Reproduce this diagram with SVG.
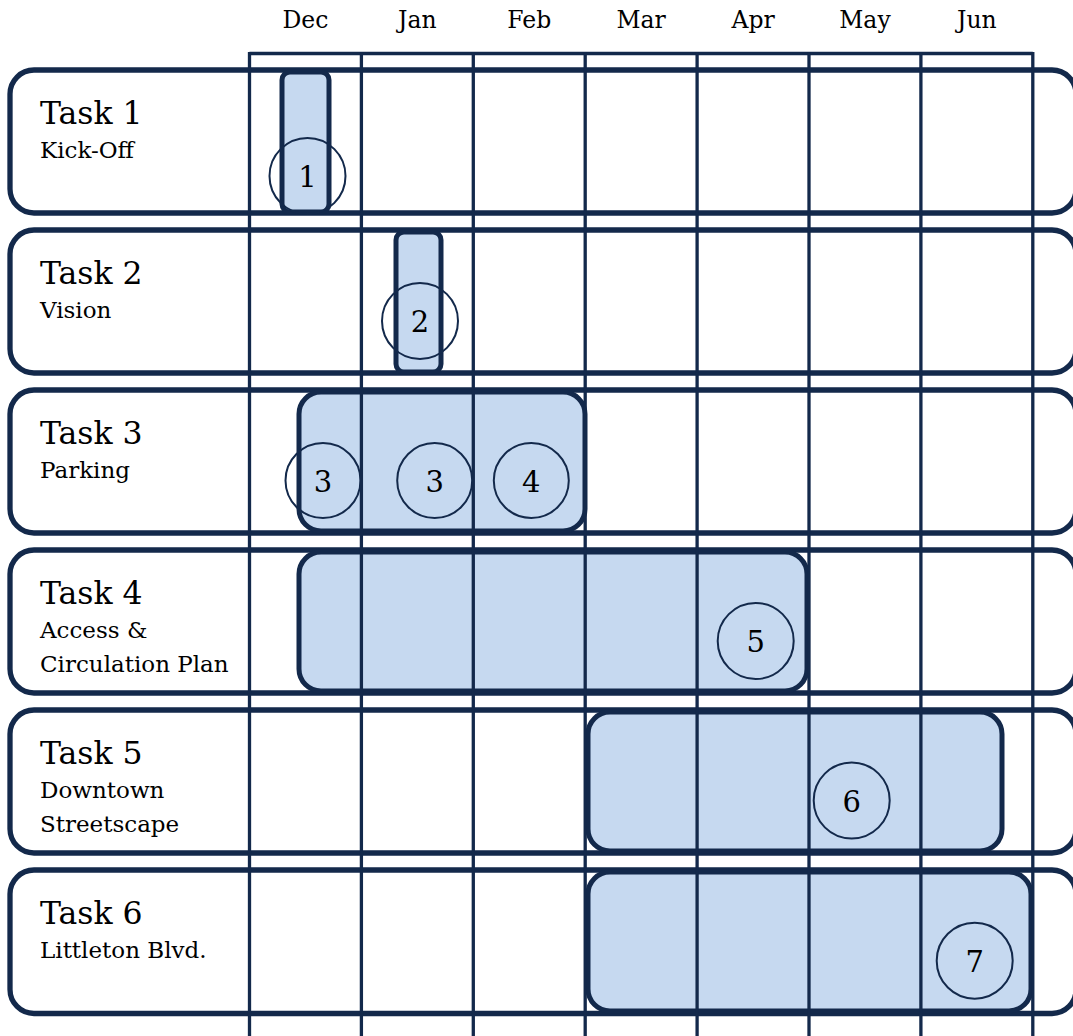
<svg xmlns="http://www.w3.org/2000/svg" width="1073" height="1036" viewBox="0 0 1073 1036">
<style>
.row{fill:#ffffff;stroke:#13294b;stroke-width:5.3}
.bar{fill:#c6d9f0;stroke:#13294b;stroke-width:5}
.ms{fill:none;stroke:#13294b;stroke-width:2}
.grid{stroke:#13294b;stroke-width:3.3;fill:none}
.t{font-family:"DejaVu Serif","Liberation Serif",serif;fill:#000}
.title{font-size:31.5px}
.sub{font-size:23px}
.mon{font-size:23.5px;text-anchor:middle}
.num{font-size:29px;text-anchor:middle}
</style>
<rect width="1073" height="1036" fill="#ffffff"/>
<g id="months" class="t mon">
<text x="305.5" y="28">Dec</text>
<text x="417.4" y="28">Jan</text>
<text x="529.3" y="28">Feb</text>
<text x="641.2" y="28">Mar</text>
<text x="753.1" y="28">Apr</text>
<text x="865" y="28">May</text>
<text x="976.9" y="28">Jun</text>
</g>
<g id="task1">
<rect class="row" x="10" y="70" width="1066" height="143" rx="24"/>
<text class="t title" x="40" y="124">Task 1</text>
<text class="t sub" x="40" y="158">Kick-Off</text>
<rect class="bar" x="282" y="72" width="47" height="140" rx="8"/>
<circle class="ms" cx="307.5" cy="176" r="38"/>
<text class="t num" x="307.5" y="187">1</text>
</g>
<g id="task2">
<rect class="row" x="10" y="230" width="1066" height="143" rx="24"/>
<text class="t title" x="40" y="284">Task 2</text>
<text class="t sub" x="40" y="318">Vision</text>
<rect class="bar" x="396" y="232" width="45" height="140" rx="8"/>
<circle class="ms" cx="420" cy="321" r="38"/>
<text class="t num" x="420" y="332">2</text>
</g>
<g id="task3">
<rect class="row" x="10" y="390" width="1066" height="143" rx="24"/>
<text class="t title" x="40" y="444">Task 3</text>
<text class="t sub" x="40" y="478">Parking</text>
<rect class="bar" x="299" y="392" width="286" height="139" rx="22"/>
<circle class="ms" cx="323" cy="480.5" r="37.5"/>
<text class="t num" x="323" y="491.5">3</text>
<circle class="ms" cx="434.7" cy="480.5" r="37.5"/>
<text class="t num" x="434.7" y="491.5">3</text>
<circle class="ms" cx="531.3" cy="480.5" r="37.5"/>
<text class="t num" x="531.3" y="491.5">4</text>
</g>
<g id="task4">
<rect class="row" x="10" y="550" width="1066" height="143" rx="24"/>
<text class="t title" x="40" y="604">Task 4</text>
<text class="t sub" x="40" y="638">Access &amp;</text>
<text class="t sub" x="40" y="672">Circulation Plan</text>
<rect class="bar" x="299" y="552" width="508" height="139" rx="22"/>
<circle class="ms" cx="755.7" cy="641" r="38"/>
<text class="t num" x="755.7" y="652">5</text>
</g>
<g id="task5">
<rect class="row" x="10" y="710" width="1066" height="143" rx="24"/>
<text class="t title" x="40" y="764">Task 5</text>
<text class="t sub" x="40" y="798">Downtown</text>
<text class="t sub" x="40" y="832">Streetscape</text>
<rect class="bar" x="588" y="712" width="414" height="139" rx="22"/>
<circle class="ms" cx="851.7" cy="800.5" r="38"/>
<text class="t num" x="851.7" y="811.5">6</text>
</g>
<g id="task6">
<rect class="row" x="10" y="870" width="1066" height="143.5" rx="24"/>
<text class="t title" x="40" y="924">Task 6</text>
<text class="t sub" x="40" y="958">Littleton Blvd.</text>
<rect class="bar" x="588" y="872" width="443" height="139" rx="22"/>
<circle class="ms" cx="974.7" cy="960.7" r="38"/>
<text class="t num" x="974.7" y="971.7">7</text>
</g>
<g id="grid" class="grid">
<line x1="249.5" y1="53.5" x2="1032.8" y2="53.5"/>
<line x1="249.5" y1="52" x2="249.5" y2="1036"/>
<line x1="361.4" y1="52" x2="361.4" y2="1036"/>
<line x1="473.3" y1="52" x2="473.3" y2="1036"/>
<line x1="585.2" y1="52" x2="585.2" y2="1036"/>
<line x1="697.1" y1="52" x2="697.1" y2="1036"/>
<line x1="809" y1="52" x2="809" y2="1036"/>
<line x1="920.9" y1="52" x2="920.9" y2="1036"/>
<line x1="1032.8" y1="52" x2="1032.8" y2="1036"/>
</g>
</svg>
